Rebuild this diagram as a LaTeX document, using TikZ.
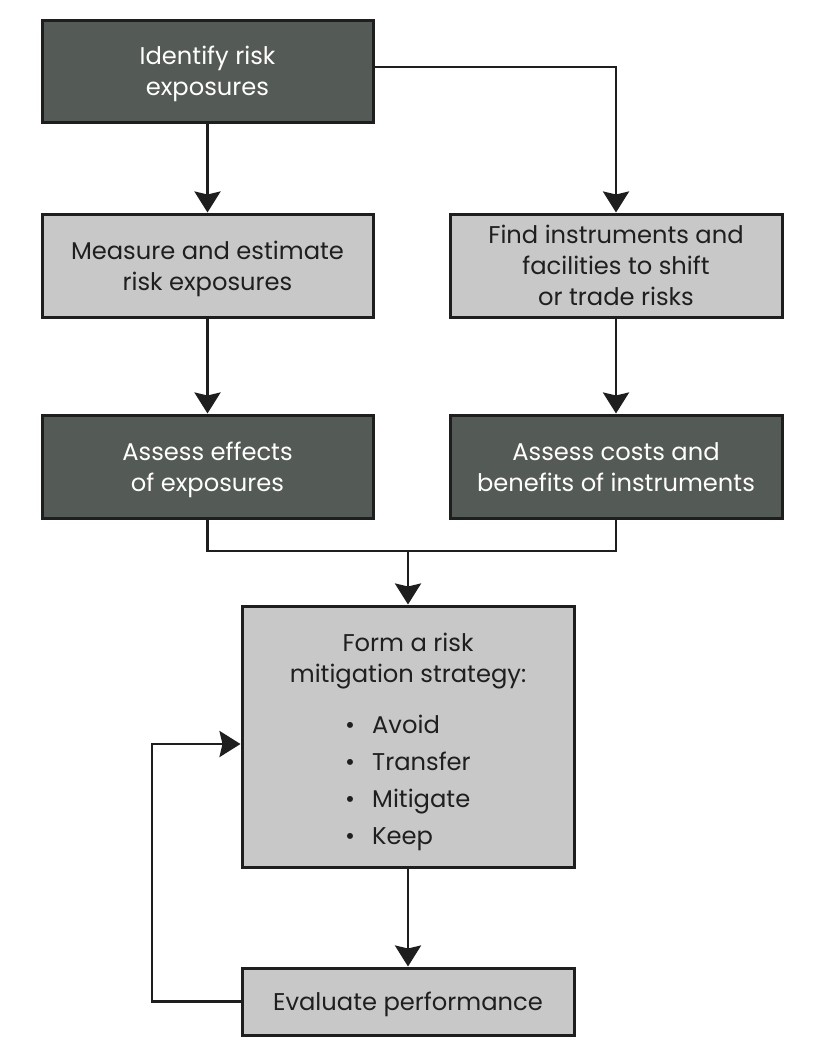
\documentclass[tikz,border=0pt]{standalone}
\usepackage{fontspec}
\setmainfont{Poppins}
\usetikzlibrary{arrows.meta}
\definecolor{darkbox}{HTML}{545A55}
\definecolor{lightbox}{HTML}{C8C8C8}
\definecolor{edgecol}{HTML}{1E1E1E}
% lower the text block by half of the optional extra height
\newcommand{\boxlines}[2][6.5pt]{\raisebox{0pt}[\dimexpr\height+#1\relax][\depth]{\begin{tabular}{@{}c@{}}#2\end{tabular}}}
\begin{document}
\begin{tikzpicture}[x=1pt,y=-1pt,
  box/.style={draw=edgecol,line width=3pt,inner sep=0pt,align=center,
    font=\fontsize{24.2}{31}\selectfont},
  darkb/.style={box,fill=darkbox,text=white},
  lightb/.style={box,fill=lightbox,text=black!88},
  conn/.style={draw=edgecol,line width=2.9pt},
  arr/.style={conn,-{Stealth[length=21pt,width=26pt,inset=3pt]}}]
\useasboundingbox (0,0) rectangle (820,1058);
\node[darkb,minimum width=331pt,minimum height=102pt] (identify) at (207.5,71) {\boxlines{Identify risk\\exposures}};
\node[lightb,minimum width=331pt,minimum height=103pt] (measure) at (207.5,265.5) {\boxlines{Measure and estimate\\risk exposures}};
\node[lightb,minimum width=332pt,minimum height=103pt] (find) at (616,265.5) {\boxlines{Find instruments and\\facilities to shift\\or trade risks}};
\node[darkb,minimum width=331pt,minimum height=103pt] (effects) at (207.5,466.5) {\boxlines{Assess effects\\of exposures}};
\node[darkb,minimum width=332pt,minimum height=103pt] (costs) at (616,466.5) {\boxlines{Assess costs and\\benefits of instruments}};
\node[lightb,minimum width=332pt,minimum height=261pt] (form) at (408,736.5) {\boxlines[13pt]{Form a risk\\mitigation strategy:\\[15pt]
  \renewcommand{\arraystretch}{1.2}\begin{tabular}[t]{@{}l@{\hspace{17pt}}l@{}}
  \textbullet & Avoid\\
  \textbullet & Transfer\\
  \textbullet & Mitigate\\
  \textbullet & Keep
  \end{tabular}}};
\node[lightb,minimum width=332pt,minimum height=67pt] (eval) at (408,1001.5) {\boxlines{Evaluate performance}};
\coordinate (junc) at (408,551);
\coordinate (fb) at (152,744);
\draw[arr] (identify.south) -- (measure.north);
\draw[arr] (identify.east |- 0,67) -| (find.north);
\draw[arr] (measure.south) -- (effects.north);
\draw[arr] (find.south) -- (costs.north);
\draw[conn] (effects.south) |- (junc) -| (costs.south);
\draw[arr] (junc) -- (form.north);
\draw[arr] (form.south) -- (eval.north);
\draw[arr] (eval.west) -| (fb) -- (form.west |- fb);
\end{tikzpicture}
\end{document}
